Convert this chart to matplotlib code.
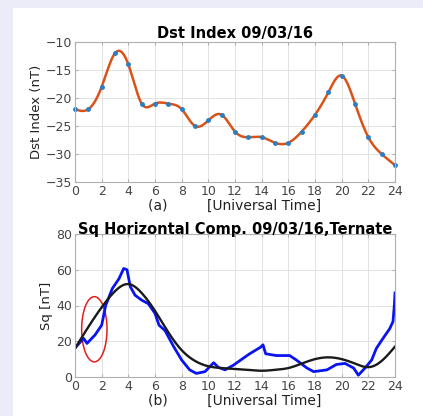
import numpy as np
import matplotlib
matplotlib.use("Agg")
import matplotlib.pyplot as plt
from matplotlib.patches import Ellipse, Rectangle

# Dst index, hourly values (nT)
dst_hours = np.arange(0, 25)
dst_vals = [-22, -22, -18, -12, -14, -21, -21, -21, -22, -25, -24, -23, -26,
            -27, -27, -28, -28, -26, -23, -19, -16, -21, -27, -30, -32]

# Sq horizontal component, observed (blue)
sq_t = [0, 0.15, 0.65, 0.9, 1.5, 2.0, 2.3, 2.8, 3.3, 3.65, 3.9, 4.15, 4.5, 5.0,
        5.5, 6.0, 6.3, 6.75, 7.4, 8.0, 8.6, 9.1, 9.75, 10.4, 10.75, 11.25,
        11.9, 12.6, 13.1, 13.9, 14.1, 14.3, 15.1, 16.1, 16.6, 17.4, 17.9, 18.9,
        19.6, 20.25, 20.9, 21.25, 21.75, 22.25, 22.6, 23.1, 23.6, 23.85, 23.95, 24.0]
sq_obs = [16, 17.5, 21.6, 18.8, 23.5, 29, 40, 49.5, 55, 60.7, 60, 50.5, 45.8, 43,
          41, 35.6, 29, 26, 17, 9.5, 4, 2, 3, 8, 5.4, 4, 6.7, 10.4, 13, 16.6,
          18, 13, 12, 12, 9.5, 5, 3, 4, 7, 7.6, 5, 1, 5, 9.5, 16, 21.6, 27, 31, 40, 47]

# Sq fitted curve (black), hourly
fit_hours = np.arange(0, 25)
sq_fit = [16, 28, 39, 48, 52, 47, 37, 25, 15, 9, 6, 5, 4.5, 4, 3.5, 4, 5, 7.5,
          10, 11, 10, 7.5, 5.5, 9, 17]


def natural_spline(x, y, xs):
    x = np.asarray(x, float)
    y = np.asarray(y, float)
    n = len(x)
    h = np.diff(x)
    A = np.zeros((n, n))
    r = np.zeros(n)
    A[0, 0] = A[-1, -1] = 1
    for i in range(1, n - 1):
        A[i, i - 1] = h[i - 1]
        A[i, i] = 2 * (h[i - 1] + h[i])
        A[i, i + 1] = h[i]
        r[i] = 6 * ((y[i + 1] - y[i]) / h[i] - (y[i] - y[i - 1]) / h[i - 1])
    M = np.linalg.solve(A, r)
    idx = np.clip(np.searchsorted(x, xs) - 1, 0, n - 2)
    x0, x1 = x[idx], x[idx + 1]
    hh = x1 - x0
    return (M[idx] * (x1 - xs) ** 3 / (6 * hh) + M[idx + 1] * (xs - x0) ** 3 / (6 * hh)
            + (y[idx] / hh - M[idx] * hh / 6) * (x1 - xs)
            + (y[idx + 1] / hh - M[idx + 1] * hh / 6) * (xs - x0))


tick_col = "#444444"
plt.rcParams['font.family'] = ['DejaVu Sans']

fig = plt.figure(figsize=(4.23, 4.16), dpi=100, facecolor="#ececf8")
fig.patches.append(Rectangle((13 / 423, 0), 1, 1 - 8 / 416, transform=fig.transFigure,
                             facecolor="white", edgecolor="none", zorder=-1))


def style(ax):
    ax.set_xlim(0, 24)
    ax.set_xticks(range(0, 25, 2))
    ax.grid(True, color="#e2e2e2", lw=0.7)
    ax.set_axisbelow(True)
    for s in ax.spines.values():
        s.set_color("#b0b0b0")
        s.set_linewidth(0.8)
    ax.tick_params(direction="in", length=2.5, colors="#b0b0b0", labelcolor=tick_col,
                   labelsize=9, top=True, right=True, pad=2)


# (a) Dst
ax1 = fig.add_axes([75 / 423, 1 - 182 / 416, 320 / 423, 140 / 416])
style(ax1)
xs = np.linspace(0, 24, 600)
ax1.plot(xs, natural_spline(dst_hours, dst_vals, xs), color="#d95319", lw=1.8)
ax1.plot(dst_hours, dst_vals, ".", color="#2a7fc4", ms=5, clip_on=False)
ax1.set_ylim(-35, -10)
ax1.set_yticks(range(-35, -9, 5))
ax1.set_title("Dst Index 09/03/16", fontsize=10.5, fontweight="bold", pad=3)
ax1.set_ylabel("Dst Index (nT)", fontsize=9.5, labelpad=2, color="#222222")
ax1.set_xlabel("(a)         [Universal Time]", fontsize=10, labelpad=1, color="#222222")

# (b) Sq
ax2 = fig.add_axes([75 / 423, 1 - 377 / 416, 320 / 423, 143 / 416])
style(ax2)
ax2.plot(sq_t, sq_obs, color="#0a14f0", lw=2.0)
ax2.plot(xs, natural_spline(fit_hours, sq_fit, xs), color="#1a1a1a", lw=1.7)
ax2.add_patch(Ellipse((1.45, 26.7), 1.9, 36.5, fill=False,
                      edgecolor="#e02020", lw=1.1))
ax2.set_ylim(0, 80)
ax2.set_yticks(range(0, 81, 20))
ax2.set_title("Sq Horizontal Comp. 09/03/16,Ternate", fontsize=10.5,
              fontweight="bold", pad=0)
ax2.set_ylabel("Sq [nT]", fontsize=9.5, labelpad=2, color="#222222")
ax2.set_xlabel("(b)         [Universal Time]", fontsize=10, labelpad=1, color="#222222")

fig.savefig("out.png", dpi=100, facecolor=fig.get_facecolor())
